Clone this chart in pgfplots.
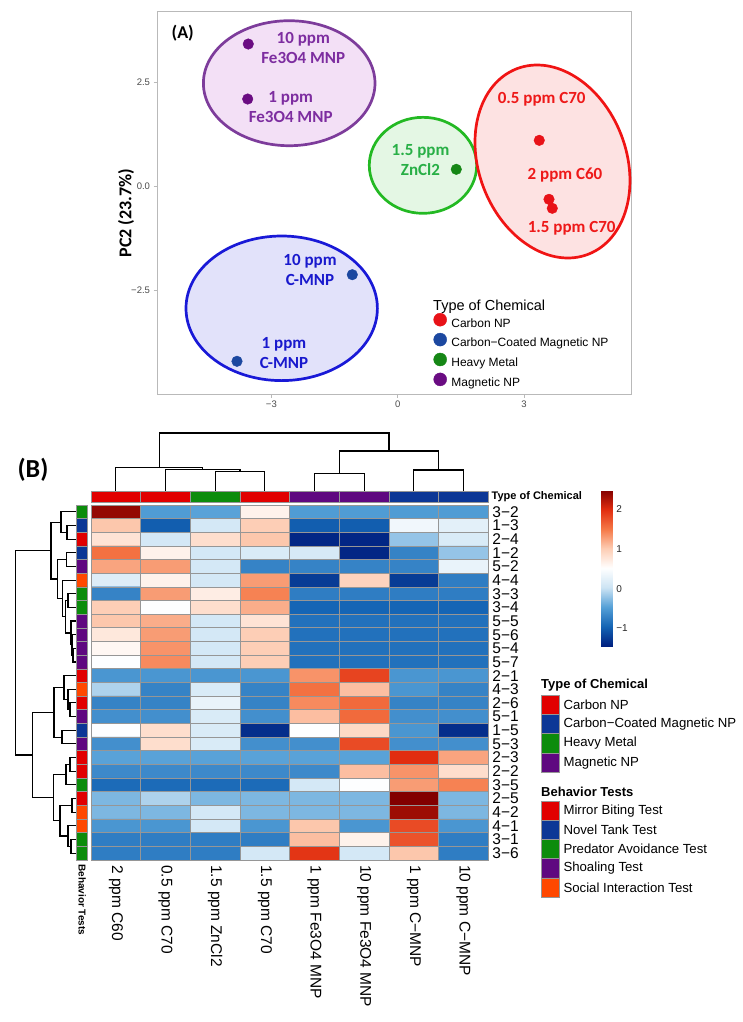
\documentclass[border=0pt]{standalone}
\usepackage{pgfplots}
\pgfplotsset{compat=1.18}
\usepackage{fontspec}
\setmainfont{Liberation Sans}
\newfontfamily\calfont{Carlito}

% PCA colours
\definecolor{pRed}{RGB}{232,18,24}
\definecolor{pBlue}{RGB}{28,72,160}
\definecolor{pGreen}{RGB}{22,135,22}
\definecolor{pPurple}{RGB}{106,12,130}
\definecolor{eRed}{RGB}{240,20,20}
\definecolor{eBlue}{RGB}{25,25,215}
\definecolor{eGreen}{RGB}{35,185,35}
\definecolor{ePurple}{RGB}{125,60,155}
\definecolor{fRed}{RGB}{253,226,226}
\definecolor{fBlue}{RGB}{226,226,250}
\definecolor{fGreen}{RGB}{228,247,228}
\definecolor{fPurple}{RGB}{243,224,246}
\definecolor{tRed}{RGB}{238,25,25}
\definecolor{tBlue}{RGB}{25,25,205}
\definecolor{tGreen}{RGB}{40,175,70}
\definecolor{tPurple}{RGB}{125,45,160}
% heatmap annotation colours
\definecolor{aRed}{RGB}{225,0,0}
\definecolor{aBlue}{RGB}{12,55,150}
\definecolor{aGreen}{RGB}{12,140,12}
\definecolor{aPurple}{RGB}{95,8,128}
\definecolor{aOrange}{RGB}{255,72,0}
\definecolor{cellBorder}{RGB}{150,150,150}

\pgfplotsset{colormap={hm}{rgb255=(0,32,128) rgb255=(20,100,180) rgb255=(85,160,215)
  rgb255=(205,228,244) rgb255=(255,255,255) rgb255=(253,205,180) rgb255=(245,120,70)
  rgb255=(225,45,15) rgb255=(130,0,0)}}

\newcommand{\fs}[1]{\fontsize{#1}{#1}\selectfont}
% row dendrogram link: (x1,y1) -> join x -> (x2,y2)
\newcommand{\lnk}[5]{\addplot[black, line width=1.1pt] coordinates {(#1,#2)(#3,#2)(#3,#4)(#5,#4)};}
% column dendrogram link
\newcommand{\clnk}[5]{\addplot[black, line width=1.1pt] coordinates {(#1,#2)(#1,#3)(#4,#3)(#4,#5)};}
% annotation cell
\newcommand{\annbox}[5]{\addplot[fill=#1, draw=cellBorder, line width=0.7pt] coordinates {(#2,#3)(#4,#3)(#4,#5)(#2,#5)(#2,#3)};}

\begin{document}
\begin{tikzpicture}

%% ---------------- (A) PCA ----------------
\begin{axis}[
  at={(157pt,-11pt)}, anchor=north west,
  scale only axis, width=474pt, height=383pt,
  xmin=-5.717, xmax=5.542, ymin=-4.983, ymax=4.224,
  clip=false,
  axis line style={draw=gray!55, line width=0.9pt},
  xtick={-3,0,3}, xticklabels={−3,0,3},
  ytick={-2.5,0,2.5}, yticklabels={−2.5,0.0,2.5},
  tick pos=left, tick align=outside, major tick length=3.5pt,
  tick style={gray!55, line width=0.9pt},
  tick label style={font=\fs{9.5}, text=gray!60!black},
  legend cell align=left,
  legend image code/.code={\fill[#1] (6.5pt,3.8pt) circle (6.5pt);},
  legend style={draw=none, fill=none, at={(0.5833,0.2115)}, anchor=north west,
    inner sep=0pt, outer sep=0pt, row sep=4.3pt, column sep=4.5pt,
    font=\fs{12}, nodes={inner sep=0pt}},
]
\draw[draw=ePurple, fill=fPurple, line width=2.7pt] (axis cs:-2.577,2.488) ellipse [x radius=85.8pt, y radius=62.5pt];
\draw[draw=eGreen, fill=fGreen, line width=2.7pt] (axis cs:0.601,0.514) ellipse [x radius=53.7pt, y radius=48pt];
\draw[draw=eBlue, fill=fBlue, line width=2.7pt] (axis cs:-2.755,-2.923) ellipse [x radius=95.7pt, y radius=72.3pt];
\draw[draw=eRed, fill=fRed, line width=2.7pt, rotate around={21:(axis cs:3.677,0.606)}] (axis cs:3.677,0.606) ellipse [x radius=73.7pt, y radius=99.4pt];

\addplot[only marks, mark=*, mark size=5.3pt, color=pRed] coordinates {(3.363,1.115) (3.594,-0.303) (3.672,-0.519)};
\addlegendentry{Carbon NP}
\addplot[only marks, mark=*, mark size=5.3pt, color=pBlue] coordinates {(-1.078,-2.115) (-3.817,-4.197)};
\addlegendentry{Carbon−Coated Magnetic NP}
\addplot[only marks, mark=*, mark size=5.3pt, color=pGreen] coordinates {(1.392,0.418)};
\addlegendentry{Heavy Metal}
\addplot[only marks, mark=*, mark size=5.3pt, color=pPurple] coordinates {(-3.549,3.430) (-3.563,2.108)};
\addlegendentry{Magnetic NP}
\end{axis}

%% ---------------- (B) heatmap ----------------
\begin{axis}[
  at={(91pt,-505pt)}, anchor=north west,
  scale only axis, width=397.3pt, height=355pt,
  xmin=0.5, xmax=8.5, ymin=0.5, ymax=26.5, y dir=reverse,
  axis on top,
  colormap name=hm, point meta min=-1.45, point meta max=2.49,
  xtick={1,...,8},
  xticklabels={2 ppm C60, 0.5 ppm C70, 1.5 ppm ZnCl2, 1.5 ppm C70,
    1 ppm Fe3O4 MNP, 10 ppm Fe3O4 MNP, 1 ppm C−MNP, 10 ppm C−MNP},
  xticklabel style={rotate=-90, anchor=west, inner sep=0pt, font=\fs{15.5}},
  xticklabel shift=5pt,
  ytick={1,...,26},
  yticklabels={3−2,1−3,2−4,1−2,5−2,4−4,3−3,3−4,5−5,5−6,5−4,5−7,2−1,
    4−3,2−6,5−1,1−5,5−3,2−3,2−2,3−5,2−5,4−2,4−1,3−1,3−6},
  yticklabel pos=right,
  yticklabel style={anchor=west, inner sep=0pt, font=\fs{15.5}},
  yticklabel shift=4pt,
  major tick length=0pt, minor tick length=0pt,
  minor xtick={1.5,2.5,...,7.5}, minor ytick={1.5,2.5,...,25.5},
  xminorgrids=true, yminorgrids=true,
  minor grid style={cellBorder, line width=0.8pt},
  axis line style={cellBorder, line width=0.8pt},
]
\addplot[matrix plot*, mesh/cols=8, point meta=explicit] coordinates {
(1,1)[2.4] (2,1)[-0.5] (3,1)[-0.45] (4,1)[0.65] (5,1)[-0.5] (6,1)[-0.5] (7,1)[-0.5] (8,1)[-0.5]
(1,2)[1.05] (2,2)[-1.0] (3,2)[0.1] (4,2)[1.0] (5,2)[-1.0] (6,2)[-1.0] (7,2)[0.38] (8,2)[0.25]
(1,3)[0.8] (2,3)[0.1] (3,3)[0.85] (4,3)[1.05] (5,3)[-1.4] (6,3)[-1.4] (7,3)[-0.2] (8,3)[0.15]
(1,4)[1.55] (2,4)[0.65] (3,4)[0.1] (4,4)[0.15] (5,4)[0.12] (6,4)[-1.4] (7,4)[-0.7] (8,4)[-0.2]
(1,5)[1.25] (2,5)[1.3] (3,5)[0.1] (4,5)[-0.7] (5,5)[-0.7] (6,5)[-0.7] (7,5)[-0.7] (8,5)[0.3]
(1,6)[0.2] (2,6)[0.65] (3,6)[0.1] (4,6)[1.3] (5,6)[-1.25] (6,6)[0.95] (7,6)[-1.25] (8,6)[-0.75]
(1,7)[-0.7] (2,7)[1.3] (3,7)[0.7] (4,7)[1.45] (5,7)[-0.75] (6,7)[-0.75] (7,7)[-0.75] (8,7)[-0.75]
(1,8)[1.0] (2,8)[0.5] (3,8)[0.85] (4,8)[1.2] (5,8)[-0.95] (6,8)[-0.95] (7,8)[-0.95] (8,8)[-0.95]
(1,9)[1.05] (2,9)[1.2] (3,9)[0.1] (4,9)[0.8] (5,9)[-0.85] (6,9)[-0.85] (7,9)[-0.85] (8,9)[-0.85]
(1,10)[0.75] (2,10)[1.3] (3,10)[0.1] (4,10)[1.0] (5,10)[-0.85] (6,10)[-0.85] (7,10)[-0.85] (8,10)[-0.85]
(1,11)[0.6] (2,11)[1.35] (3,11)[0.1] (4,11)[1.0] (5,11)[-0.85] (6,11)[-0.85] (7,11)[-0.85] (8,11)[-0.85]
(1,12)[0.5] (2,12)[1.4] (3,12)[0.1] (4,12)[1.0] (5,12)[-0.85] (6,12)[-0.85] (7,12)[-0.85] (8,12)[-0.85]
(1,13)[-0.55] (2,13)[-0.55] (3,13)[-0.55] (4,13)[-0.55] (5,13)[1.35] (6,13)[1.85] (7,13)[-0.55] (8,13)[-0.55]
(1,14)[-0.1] (2,14)[-0.7] (3,14)[0.15] (4,14)[-0.7] (5,14)[1.55] (6,14)[1.1] (7,14)[-0.55] (8,14)[-0.7]
(1,15)[-0.7] (2,15)[-0.7] (3,15)[0.3] (4,15)[-0.7] (5,15)[1.4] (6,15)[1.6] (7,15)[-0.7] (8,15)[-0.7]
(1,16)[-0.6] (2,16)[-0.6] (3,16)[0.15] (4,16)[-0.6] (5,16)[1.1] (6,16)[1.6] (7,16)[-0.6] (8,16)[-0.6]
(1,17)[0.5] (2,17)[0.85] (3,17)[0.15] (4,17)[-1.35] (5,17)[0.5] (6,17)[0.9] (7,17)[-0.55] (8,17)[-1.35]
(1,18)[-0.6] (2,18)[0.85] (3,18)[0.15] (4,18)[-0.6] (5,18)[-0.6] (6,18)[1.8] (7,18)[-0.6] (8,18)[-0.6]
(1,19)[-0.45] (2,19)[-0.45] (3,19)[-0.45] (4,19)[-0.45] (5,19)[-0.45] (6,19)[-0.45] (7,19)[2.0] (8,19)[1.25]
(1,20)[-0.65] (2,20)[-0.65] (3,20)[-0.65] (4,20)[-0.65] (5,20)[-0.65] (6,20)[1.1] (7,20)[1.35] (8,20)[0.85]
(1,21)[-0.9] (2,21)[-0.9] (3,21)[-0.9] (4,21)[-0.9] (5,21)[0.1] (6,21)[0.5] (7,21)[1.3] (8,21)[1.45]
(1,22)[-0.3] (2,22)[-0.1] (3,22)[-0.3] (4,22)[-0.3] (5,22)[-0.3] (6,22)[-0.3] (7,22)[2.5] (8,22)[-0.3]
(1,23)[-0.3] (2,23)[-0.3] (3,23)[0.1] (4,23)[-0.3] (5,23)[-0.3] (6,23)[-0.3] (7,23)[2.35] (8,23)[-0.3]
(1,24)[-0.55] (2,24)[-0.55] (3,24)[0.1] (4,24)[-0.55] (5,24)[1.05] (6,24)[-0.55] (7,24)[1.8] (8,24)[-0.55]
(1,25)[-0.75] (2,25)[-0.75] (3,25)[-0.75] (4,25)[-0.75] (5,25)[1.1] (6,25)[0.65] (7,25)[1.75] (8,25)[-0.75]
(1,26)[-0.75] (2,26)[-0.75] (3,26)[-0.75] (4,26)[0.1] (5,26)[1.95] (6,26)[0.1] (7,26)[1.05] (8,26)[-0.75]
};
\end{axis}

%% colour key
\begin{axis}[
  at={(592.7pt,-490pt)}, anchor=north west,
  scale only axis, width=0pt, height=0pt, hide axis,
  colormap name=hm, point meta min=-1.45, point meta max=2.49,
  colorbar,
  colorbar style={at={(parent axis.north west)}, anchor=north west,
    xshift=0pt, yshift=0pt, scale only axis, width=11.6pt, height=156pt,
    ytick={-1,0,1,2}, yticklabels={−1,0,1,2},
    yticklabel style={font=\fs{10}, text=black!85},
    major tick length=0pt, axis line style={draw=none}},
]
\addplot[draw=none] coordinates {(0,0)};
\end{axis}

%% ---------------- overlay in picture pixels ----------------
\begin{axis}[
  at={(0pt,0pt)}, anchor=north west,
  scale only axis, width=743pt, height=1022pt,
  xmin=0, xmax=743, ymin=0, ymax=1022, y dir=reverse,
  hide axis, clip=false,
]
% panel A text
\node[font=\calfont\bfseries\fs{18}] at (axis cs:182.7,33) {(A)};
\node[rotate=90, font=\calfont\bfseries\fs{18}] at (axis cs:126,213) {PC2 (23.7\%)};
\begin{scope}[every node/.style={font=\calfont\bfseries\fontsize{17}{20}\selectfont, align=center}]
\node[text=tPurple] at (axis cs:303.3,48.3) {10 ppm\\Fe3O4 MNP};
\node[text=tPurple] at (axis cs:290.7,106.7) {1 ppm\\Fe3O4 MNP};
\node[text=tGreen] at (axis cs:420.5,160) {1.5 ppm\\ZnCl2};
\node[text=tRed] at (axis cs:541.7,99) {0.5 ppm C70};
\node[text=tRed] at (axis cs:565,175) {2 ppm C60};
\node[text=tRed] at (axis cs:571.7,228.3) {1.5 ppm C70};
\node[text=tBlue] at (axis cs:310,270) {10 ppm\\C-MNP};
\node[text=tBlue] at (axis cs:284,353) {1 ppm\\C-MNP};
\end{scope}
\node[anchor=west, inner sep=0pt, font=\fs{14.5}] at (axis cs:433,306.7) {Type of Chemical};

% panel B label
\node[font=\calfont\bfseries\fs{26}] at (axis cs:33,470) {(B)};

% column dendrogram
\clnk{215.2}{491}{471.7}{264.8}{491}
\clnk{165.5}{491}{469.3}{240}{471.7}
\clnk{115.8}{491}{467.7}{202.75}{469.3}
\clnk{314.5}{491}{473.3}{364.2}{491}
\clnk{413.8}{491}{470}{463.5}{491}
\clnk{339.35}{473.3}{451}{438.65}{470}
\clnk{159.3}{467.7}{433}{389}{451}

% row dendrogram
\lnk{76}{525.5}{67}{539.1}{76}
\lnk{76}{511.8}{61}{532.3}{67}
\lnk{76}{552.8}{66.5}{566.4}{76}
\lnk{76}{648.3}{73}{662.0}{76}
\lnk{76}{634.7}{72}{655.15}{73}
\lnk{76}{621.0}{71}{644.9}{72}
\lnk{76}{593.7}{68}{607.4}{76}
\lnk{68}{600.55}{65.5}{632.95}{71}
\lnk{76}{580.1}{62.5}{616.75}{65.5}
\lnk{66.5}{559.6}{57.5}{598.4}{62.5}
\lnk{61}{522.05}{51}{579.0}{57.5}
\lnk{76}{702.9}{70}{716.6}{76}
\lnk{76}{689.3}{68}{709.75}{70}
\lnk{76}{675.6}{64}{699.5}{68}
\lnk{76}{730.2}{62}{743.9}{76}
\lnk{64}{687.6}{54}{737.05}{62}
\lnk{76}{757.5}{70}{771.2}{76}
\lnk{70}{764.35}{66}{784.8}{76}
\lnk{76}{798.5}{72}{812.1}{76}
\lnk{76}{839.4}{71}{853.1}{76}
\lnk{76}{825.8}{68}{846.25}{71}
\lnk{72}{805.3}{60}{836.0}{68}
\lnk{66}{774.6}{53.3}{820.65}{60}
\lnk{54}{712.3}{32.3}{797.6}{53.3}
\lnk{51}{550.5}{15.7}{754.95}{32.3}

% column annotation (Type of Chemical)
\annbox{aRed}{91}{491}{140.66}{502.3}
\annbox{aRed}{140.66}{491}{190.33}{502.3}
\annbox{aGreen}{190.33}{491}{239.99}{502.3}
\annbox{aRed}{239.99}{491}{289.65}{502.3}
\annbox{aPurple}{289.65}{491}{339.31}{502.3}
\annbox{aPurple}{339.31}{491}{388.98}{502.3}
\annbox{aBlue}{388.98}{491}{438.64}{502.3}
\annbox{aBlue}{438.64}{491}{488.3}{502.3}
\node[anchor=west, inner sep=0pt, font=\bfseries\fs{11}] at (axis cs:491.5,496.6) {Type of Chemical};

% row annotation (Behavior Tests)
\annbox{aGreen}{76.7}{505}{87.7}{518.65}
\annbox{aBlue}{76.7}{518.65}{87.7}{532.31}
\annbox{aRed}{76.7}{532.31}{87.7}{545.96}
\annbox{aBlue}{76.7}{545.96}{87.7}{559.62}
\annbox{aPurple}{76.7}{559.62}{87.7}{573.27}
\annbox{aOrange}{76.7}{573.27}{87.7}{586.92}
\annbox{aGreen}{76.7}{586.92}{87.7}{600.58}
\annbox{aGreen}{76.7}{600.58}{87.7}{614.23}
\annbox{aPurple}{76.7}{614.23}{87.7}{627.89}
\annbox{aPurple}{76.7}{627.89}{87.7}{641.54}
\annbox{aPurple}{76.7}{641.54}{87.7}{655.19}
\annbox{aPurple}{76.7}{655.19}{87.7}{668.85}
\annbox{aRed}{76.7}{668.85}{87.7}{682.5}
\annbox{aOrange}{76.7}{682.5}{87.7}{696.16}
\annbox{aRed}{76.7}{696.16}{87.7}{709.81}
\annbox{aPurple}{76.7}{709.81}{87.7}{723.46}
\annbox{aBlue}{76.7}{723.46}{87.7}{737.12}
\annbox{aPurple}{76.7}{737.12}{87.7}{750.77}
\annbox{aRed}{76.7}{750.77}{87.7}{764.43}
\annbox{aRed}{76.7}{764.43}{87.7}{778.08}
\annbox{aGreen}{76.7}{778.08}{87.7}{791.73}
\annbox{aRed}{76.7}{791.73}{87.7}{805.39}
\annbox{aOrange}{76.7}{805.39}{87.7}{819.04}
\annbox{aOrange}{76.7}{819.04}{87.7}{832.7}
\annbox{aGreen}{76.7}{832.7}{87.7}{846.35}
\annbox{aGreen}{76.7}{846.35}{87.7}{860}
\node[rotate=-90, anchor=west, inner sep=0pt, font=\bfseries\fs{10}] at (axis cs:82.2,864) {Behavior Tests};

% annotation legends
\node[anchor=west, inner sep=0pt, font=\bfseries\fs{13}] at (axis cs:541,685) {Type of Chemical};
\annbox{aRed}{541}{695.4}{559}{714.6}
\annbox{aBlue}{541}{714.6}{559}{733.8}
\annbox{aGreen}{541}{733.8}{559}{753}
\annbox{aPurple}{541}{753}{559}{772.2}
\begin{scope}[every node/.style={anchor=west, inner sep=0pt, font=\fs{13.2}}]
\node at (axis cs:563.3,705) {Carbon NP};
\node at (axis cs:563.3,724.2) {Carbon−Coated Magnetic NP};
\node at (axis cs:563.3,743.4) {Heavy Metal};
\node at (axis cs:563.3,762.6) {Magnetic NP};
\end{scope}
\node[anchor=west, inner sep=0pt, font=\bfseries\fs{13}] at (axis cs:541,791.7) {Behavior Tests};
\annbox{aRed}{541}{801.1}{559}{820.3}
\annbox{aBlue}{541}{820.3}{559}{839.5}
\annbox{aGreen}{541}{839.5}{559}{858.7}
\annbox{aPurple}{541}{858.7}{559}{877.9}
\annbox{aOrange}{541}{877.9}{559}{897.1}
\begin{scope}[every node/.style={anchor=west, inner sep=0pt, font=\fs{13.2}}]
\node at (axis cs:563.3,810.7) {Mirror Biting Test};
\node at (axis cs:563.3,829.9) {Novel Tank Test};
\node at (axis cs:563.3,849.1) {Predator Avoidance Test};
\node at (axis cs:563.3,868.3) {Shoaling Test};
\node at (axis cs:563.3,887.5) {Social Interaction Test};
\end{scope}
\end{axis}

\pgfresetboundingbox
\path[use as bounding box] (0pt,0pt) rectangle (743pt,-1022pt);
\end{tikzpicture}
\end{document}
